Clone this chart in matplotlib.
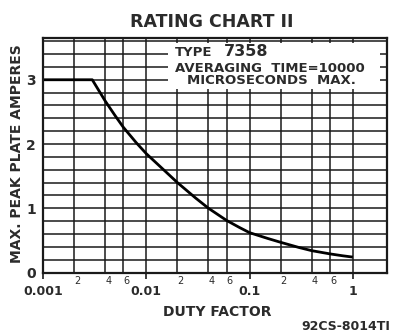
import matplotlib
matplotlib.use("Agg")
import matplotlib.pyplot as plt
from matplotlib.patches import Rectangle
from matplotlib.transforms import ScaledTranslation

# Rating curve: max peak plate current vs duty factor
duty_factor = [0.001, 0.003, 0.004, 0.005, 0.006, 0.008, 0.01, 0.02, 0.03,
               0.04, 0.06, 0.08, 0.1, 0.15, 0.2, 0.3, 0.4, 0.6, 0.8, 1.0]
peak_amperes = [3.0, 3.0, 2.67, 2.44, 2.26, 2.02, 1.85, 1.40, 1.16,
                1.00, 0.81, 0.70, 0.62, 0.53, 0.47, 0.39, 0.34, 0.29, 0.26, 0.24]

major_x = [0.001, 0.01, 0.1, 1]
major_x_labels = ["0.001", "0.01", "0.1", "1"]
minor_x = [0.002, 0.004, 0.006, 0.02, 0.04, 0.06, 0.2, 0.4, 0.6]
minor_x_labels = ["2", "4", "6", "2", "4", "6", "2", "4", "6"]
y_ticks = [0, 1, 2, 3]
y_grid = [0.2 * i for i in range(1, 19)]

ink = "#1a1a1a"
txt = "#2b2b2b"
fig = plt.figure(figsize=(3.93, 3.31), dpi=100)
ax = fig.add_axes([0.1094, 0.1767, 0.8753, 0.7085])

ax.set_xscale("log")
ax.set_xlim(0.001, 2.14)
ax.set_ylim(0, 3.65)

# grid lines
for xv in major_x + minor_x:
    ax.axvline(xv, color=ink, lw=1.1, zorder=1)
for yv in y_grid:
    ax.axhline(yv, color=ink, lw=1.1, zorder=1)

ax.plot(duty_factor, peak_amperes, color="black", lw=2.0, zorder=3,
        solid_capstyle="butt", solid_joinstyle="round")

# blank panel behind the type note
ax.add_patch(Rectangle((0.363, 0.782), 0.617, 0.195, transform=ax.transAxes,
                       facecolor="white", edgecolor="none", zorder=2))
note = dict(transform=ax.transAxes, va="center", color=txt, zorder=4,
            fontweight="bold")
ax.text(0.384, 0.938, "TYPE", fontsize=9.5, ha="left", **note)
ax.text(0.527, 0.944, "7358", fontsize=11.5, ha="left", **note)
ax.text(0.384, 0.872, "AVERAGING  TIME=10000", fontsize=9.5, ha="left", **note)
ax.text(0.663, 0.818, "MICROSECONDS  MAX.", fontsize=9.5, ha="center", **note)

for sp in ax.spines.values():
    sp.set_linewidth(1.6)
    sp.set_color(ink)
    sp.set_zorder(5)

ax.set_xticks(major_x)
ax.set_xticklabels(major_x_labels, fontsize=9, fontweight="bold", color=txt)
ax.set_xticks(minor_x, minor=True)
ax.set_xticklabels(minor_x_labels, minor=True, fontsize=7, color=txt)
ax.tick_params(axis="x", which="major", length=4, width=1.2, pad=5,
               direction="out", color=ink)
ax.tick_params(axis="x", which="minor", length=0, pad=2.5)
for lbl in ax.get_xticklabels(minor=True):
    lbl.set_transform(lbl.get_transform() +
                      ScaledTranslation(3 / 100, 0, fig.dpi_scale_trans))

ax.set_yticks(y_ticks)
ax.set_yticklabels([str(v) for v in y_ticks], fontsize=10, fontweight="bold",
                   color=txt)
ax.tick_params(axis="y", length=0, pad=5)

fig.text(0.54, 0.934, "RATING CHART II", fontsize=12.5, fontweight="bold",
         ha="center", va="center", color=txt)
fig.text(0.043, 0.537, "MAX. PEAK PLATE AMPERES", fontsize=10,
         fontweight="bold", rotation=90, ha="center", va="center", color=txt)
fig.text(0.552, 0.057, "DUTY FACTOR", fontsize=10, fontweight="bold",
         ha="center", va="center", color=txt)
fig.text(0.992, 0.015, "92CS-8014TI", fontsize=9, fontweight="bold",
         ha="right", va="center", color=txt)

fig.savefig("out.png", dpi=100, facecolor="white")
